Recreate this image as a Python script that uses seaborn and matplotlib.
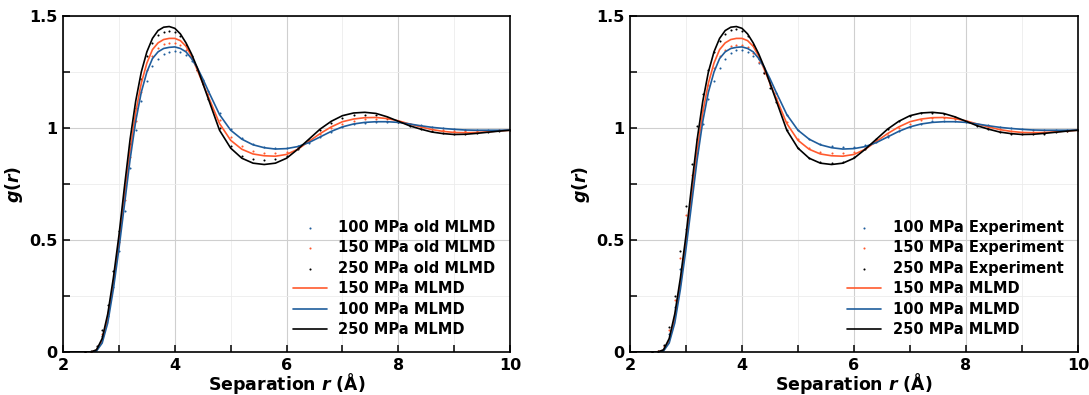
import numpy as np
import seaborn as sns
from matplotlib import pyplot as plt
from matplotlib.ticker import MultipleLocator, FuncFormatter

# separation r (Angstrom)
r = [2.0, 2.4, 2.5, 2.6, 2.7, 2.8, 2.9, 3.0, 3.1, 3.2, 3.3, 3.4, 3.5, 3.6, 3.7,
     3.8, 3.9, 4.0, 4.1, 4.2, 4.3, 4.4, 4.5, 4.6, 4.8, 5.0, 5.2, 5.4, 5.6, 5.8,
     6.0, 6.2, 6.4, 6.6, 6.8, 7.0, 7.2, 7.4, 7.6, 7.8, 8.0, 8.2, 8.4, 8.6, 8.8,
     9.0, 9.2, 9.4, 9.6, 9.8, 10.0]

# MLMD
g100_mlmd = [0.0, 0.0, 0.0, 0.005, 0.04, 0.13, 0.28, 0.46, 0.66, 0.86, 1.03, 1.16, 1.25, 1.31, 1.34,
             1.355, 1.36, 1.362, 1.355, 1.34, 1.31, 1.27, 1.22, 1.165, 1.06, 0.99, 0.95, 0.925, 0.912, 0.906,
             0.908, 0.917, 0.935, 0.96, 0.985, 1.005, 1.018, 1.025, 1.028, 1.028, 1.025, 1.018, 1.01, 1.003, 0.998,
             0.994, 0.991, 0.99, 0.99, 0.99, 0.991]
g150_mlmd = [0.0, 0.0, 0.0, 0.008, 0.05, 0.15, 0.30, 0.49, 0.70, 0.90, 1.07, 1.20, 1.29, 1.35, 1.38,
             1.395, 1.40, 1.40, 1.39, 1.365, 1.32, 1.26, 1.20, 1.14, 1.02, 0.945, 0.905, 0.884, 0.876, 0.874,
             0.882, 0.905, 0.94, 0.975, 1.005, 1.028, 1.04, 1.046, 1.047, 1.042, 1.032, 1.018, 1.005, 0.993, 0.985,
             0.98, 0.979, 0.98, 0.983, 0.987, 0.99]
g250_mlmd = [0.0, 0.0, 0.0, 0.01, 0.06, 0.17, 0.33, 0.52, 0.74, 0.95, 1.12, 1.25, 1.34, 1.40, 1.435,
             1.45, 1.453, 1.445, 1.42, 1.38, 1.33, 1.27, 1.20, 1.13, 0.99, 0.91, 0.865, 0.843, 0.837, 0.843,
             0.865, 0.905, 0.95, 0.995, 1.03, 1.055, 1.067, 1.07, 1.065, 1.05, 1.03, 1.01, 0.995, 0.982, 0.975,
             0.971, 0.972, 0.976, 0.981, 0.986, 0.99]

# old MLMD
g100_old = [0.0, 0.0, 0.002, 0.018, 0.07, 0.16, 0.29, 0.45, 0.63, 0.82, 0.99, 1.12, 1.21, 1.275, 1.31,
            1.33, 1.34, 1.342, 1.34, 1.325, 1.30, 1.26, 1.215, 1.165, 1.065, 0.995, 0.955, 0.93, 0.917, 0.911,
            0.911, 0.918, 0.935, 0.958, 0.983, 1.003, 1.016, 1.024, 1.028, 1.028, 1.025, 1.019, 1.012, 1.005, 1.0,
            0.996, 0.993, 0.991, 0.99, 0.99, 0.99]
g150_old = [0.0, 0.0, 0.002, 0.02, 0.08, 0.18, 0.32, 0.49, 0.68, 0.87, 1.03, 1.16, 1.26, 1.32, 1.355,
            1.373, 1.38, 1.38, 1.37, 1.35, 1.31, 1.26, 1.205, 1.15, 1.035, 0.96, 0.918, 0.898, 0.89, 0.889,
            0.895, 0.913, 0.942, 0.973, 1.0, 1.02, 1.033, 1.04, 1.042, 1.038, 1.03, 1.018, 1.006, 0.996, 0.99,
            0.986, 0.985, 0.985, 0.987, 0.989, 0.99]
g250_old = [0.0, 0.0, 0.003, 0.025, 0.10, 0.21, 0.36, 0.54, 0.74, 0.93, 1.09, 1.22, 1.32, 1.38, 1.415,
            1.43, 1.435, 1.43, 1.41, 1.37, 1.32, 1.26, 1.195, 1.13, 1.0, 0.92, 0.875, 0.86, 0.856, 0.86,
            0.876, 0.908, 0.948, 0.99, 1.022, 1.045, 1.057, 1.06, 1.057, 1.045, 1.028, 1.01, 0.996, 0.985, 0.978,
            0.975, 0.975, 0.978, 0.982, 0.987, 0.99]

# experiment
g100_exp = [0.0, 0.0, 0.002, 0.02, 0.08, 0.20, 0.37, 0.55, 0.73, 0.89, 1.02, 1.13, 1.21, 1.27, 1.31,
            1.335, 1.346, 1.347, 1.34, 1.32, 1.29, 1.25, 1.205, 1.155, 1.06, 0.99, 0.95, 0.93, 0.92, 0.916,
            0.916, 0.922, 0.938, 0.96, 0.985, 1.005, 1.02, 1.03, 1.033, 1.032, 1.027, 1.02, 1.012, 1.004, 0.998,
            0.994, 0.991, 0.99, 0.99, 0.99, 0.991]
g150_exp = [0.0, 0.0, 0.003, 0.025, 0.10, 0.23, 0.42, 0.61, 0.79, 0.95, 1.08, 1.19, 1.27, 1.32, 1.35,
            1.365, 1.371, 1.37, 1.36, 1.335, 1.295, 1.245, 1.19, 1.135, 1.025, 0.95, 0.91, 0.893, 0.889, 0.888,
            0.895, 0.912, 0.94, 0.97, 0.998, 1.02, 1.035, 1.043, 1.045, 1.04, 1.03, 1.017, 1.004, 0.994, 0.987,
            0.983, 0.982, 0.983, 0.985, 0.988, 0.99]
g250_exp = [0.0, 0.0, 0.004, 0.03, 0.11, 0.25, 0.45, 0.65, 0.84, 1.01, 1.15, 1.26, 1.34, 1.39, 1.42,
            1.436, 1.44, 1.432, 1.41, 1.37, 1.31, 1.245, 1.18, 1.115, 0.99, 0.91, 0.868, 0.85, 0.845, 0.85,
            0.87, 0.905, 0.95, 0.995, 1.03, 1.053, 1.065, 1.068, 1.063, 1.05, 1.03, 1.01, 0.994, 0.982, 0.975,
            0.972, 0.972, 0.975, 0.98, 0.986, 0.99]

BLUE = '#1f5d9c'
ORANGE = '#ff5a2e'
BLACK = '#000000'

sns.set_style('white')
plt.rcParams['font.family'] = ['DejaVu Sans']
plt.rcParams['font.weight'] = 'bold'
plt.rcParams['text.color'] = 'black'
plt.rcParams['axes.labelcolor'] = 'black'
plt.rcParams['xtick.color'] = 'black'
plt.rcParams['ytick.color'] = 'black'
plt.rcParams['mathtext.fontset'] = 'custom'
plt.rcParams['mathtext.it'] = 'DejaVu Sans:italic:bold'
plt.rcParams['mathtext.rm'] = 'DejaVu Sans:bold'


def style_ax(ax):
    ax.set_xlim(2, 10)
    ax.set_ylim(0, 1.5)
    ax.xaxis.set_major_locator(MultipleLocator(2))
    ax.xaxis.set_minor_locator(MultipleLocator(1))
    ax.yaxis.set_major_locator(MultipleLocator(0.5))
    ax.yaxis.set_minor_locator(MultipleLocator(0.25))
    ax.yaxis.set_major_formatter(FuncFormatter(lambda v, p: f'{v:g}'))
    ax.grid(True, which='major', color='#cfcfcf', linewidth=0.8)
    ax.grid(True, which='minor', color='#ececec', linewidth=0.6)
    ax.set_axisbelow(True)
    ax.tick_params(which='both', direction='in', length=5, width=1.1,
                   labelsize=11.5, bottom=True, left=True, top=False, right=False,
                   pad=4, colors='black')
    for s in ax.spines.values():
        s.set_linewidth(1.2)
        s.set_color('black')
    for lab in ax.get_xticklabels() + ax.get_yticklabels():
        lab.set_fontweight('bold')
    ax.set_xlabel(r'Separation $r$ (Å)', fontsize=12.5, fontweight='bold', labelpad=-1)
    ax.set_ylabel(r'$g(r)$', fontsize=12.5, fontweight='bold', labelpad=3)


def dots(ax, y, color, label):
    sns.scatterplot(x=r, y=y, ax=ax, color=color, marker='.', s=9,
                    linewidth=0, label=label)


def lines(ax):
    sns.lineplot(x=r, y=g150_mlmd, ax=ax, color=ORANGE, linewidth=1.2, label='150 MPa MLMD')
    sns.lineplot(x=r, y=g100_mlmd, ax=ax, color=BLUE, linewidth=1.2, label='100 MPa MLMD')
    sns.lineplot(x=r, y=g250_mlmd, ax=ax, color=BLACK, linewidth=1.2, label='250 MPa MLMD')


fig = plt.figure(figsize=(10.89, 3.95), dpi=100)
ax1 = fig.add_axes([0.0579, 0.1089, 0.4105, 0.8506])
ax2 = fig.add_axes([0.5785, 0.1089, 0.4114, 0.8506])

dots(ax1, g100_old, BLUE, '100 MPa old MLMD')
dots(ax1, g150_old, ORANGE, '150 MPa old MLMD')
dots(ax1, g250_old, BLACK, '250 MPa old MLMD')
lines(ax1)

dots(ax2, g100_exp, BLUE, '100 MPa Experiment')
dots(ax2, g150_exp, ORANGE, '150 MPa Experiment')
dots(ax2, g250_exp, BLACK, '250 MPa Experiment')
lines(ax2)

for ax in (ax1, ax2):
    style_ax(ax)
    leg = ax.legend(loc='lower right', frameon=False, fontsize=10.5,
                    handlelength=2.3, labelspacing=0.38, borderaxespad=0.6,
                    markerscale=1.0)
    for t in leg.get_texts():
        t.set_fontweight('bold')
        t.set_color('black')

fig.savefig('out.png', dpi=100)
